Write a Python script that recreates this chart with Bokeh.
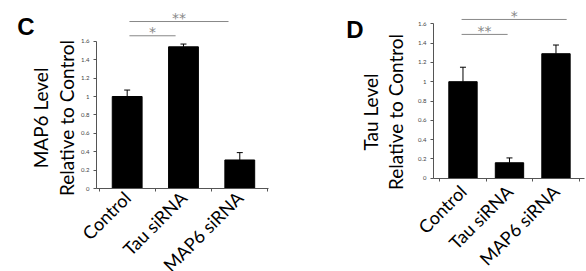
import math
from bokeh.plotting import figure
from bokeh.layouts import row
from bokeh.models import (ColumnDataSource, Range1d, LinearAxis, FixedTicker,
                          NumeralTickFormatter, Whisker, TeeHead, Label)
from bokeh.core.properties import value
from bokeh.embed import file_html
from bokeh.resources import INLINE

# ---------------- data ----------------
categories = ["Control", "Tau siRNA", "MAP6 siRNA"]

map6_level = [1.00, 1.54, 0.31]
map6_err = [0.07, 0.03, 0.08]

tau_level = [1.00, 0.16, 1.29]
tau_err = [0.15, 0.05, 0.09]

y_ticks = [0, 0.2, 0.4, 0.6, 0.8, 1.0, 1.2, 1.4, 1.6]

# significance annotations: (x start, x end, height, label)
sig_c = [(0.54, 1.36, 1.66, "*"), (0.54, 2.30, 1.815, "**")]
sig_d = [(0.47, 1.46, 1.49, "**"), (0.47, 2.73, 1.645, "*")]

FONT = "Lato"
GREY = "#888888"
W, H = 293, 271


def panel(level, err, ylabel, letter, sig, ox, oy, sx, sy, x_lo, x_hi,
          bar_w, letter_px, ylabel_px, xlab_standoff, xlab_size, star_lift_px):
    """ox, oy: canvas pixel of the data origin (x_lo, 0); sx, sy: px per unit."""
    centers = [i + 0.5 for i in range(len(categories))]
    xr = (x_lo - ox / sx, x_lo + (W - ox) / sx)
    yr = (-(H - oy) / sy, oy / sy)

    def to_data(px, py):
        return xr[0] + px / sx, yr[1] - py / sy

    p = figure(width=W, height=H, x_range=Range1d(*xr), y_range=Range1d(*yr),
               output_backend="svg", toolbar_location=None, title=None,
               x_axis_type=None, y_axis_type=None,
               min_border_left=0, min_border_right=0,
               min_border_top=0, min_border_bottom=0)
    p.outline_line_color = None
    p.grid.visible = False
    p.background_fill_color = "white"
    p.border_fill_color = "white"

    # y axis
    ya = LinearAxis(ticker=FixedTicker(ticks=y_ticks), bounds=(0, 1.6),
                    fixed_location=x_lo,
                    formatter=NumeralTickFormatter(format="0.[0]"))
    ya.axis_line_color = "#555555"
    ya.major_tick_line_color = "#555555"
    ya.major_tick_out = 3
    ya.major_tick_in = 0
    ya.minor_tick_line_color = None
    ya.major_label_text_font = FONT
    ya.major_label_text_font_size = "6px"
    ya.major_label_text_color = "#444444"
    ya.major_label_standoff = 4
    p.add_layout(ya, "left")

    # x axis
    xa = LinearAxis(ticker=FixedTicker(ticks=centers,
                                       minor_ticks=list(range(len(categories) + 1))),
                    bounds=(x_lo, x_hi), fixed_location=0,
                    major_label_overrides={c: n for c, n in zip(centers, categories)})
    xa.axis_line_color = "#555555"
    xa.major_tick_line_color = None
    xa.minor_tick_line_color = "#555555"
    xa.minor_tick_out = 3
    xa.minor_tick_in = 0
    xa.major_label_orientation = math.pi / 4
    xa.major_label_text_font = FONT
    xa.major_label_text_font_size = xlab_size
    xa.major_label_text_color = "black"
    xa.major_label_standoff = xlab_standoff
    p.add_layout(xa, "below")

    src = ColumnDataSource(dict(x=centers, top=level,
                                upper=[v + e for v, e in zip(level, err)]))
    p.vbar(x="x", top="top", width=bar_w, source=src,
           fill_color="black", line_color="black")
    p.add_layout(Whisker(source=src, base="x", lower="top", upper="upper",
                         line_color="black", line_width=1,
                         upper_head=TeeHead(size=6, line_color="black", line_width=1),
                         lower_head=None))

    for x0, x1, y, lab in sig:
        p.segment(x0=[x0], y0=[y], x1=[x1], y1=[y], line_color=GREY, line_width=1)
        p.text(x=[(x0 + x1) / 2], y=[y + star_lift_px / sy],
               text=[lab], text_align="center", text_baseline="alphabetic",
               text_font=value("DejaVu Sans"), text_font_size="14px",
               text_color=GREY)

    lx, ly = to_data(*ylabel_px)
    p.add_layout(Label(x=lx, y=ly, text=ylabel, angle=math.pi / 2,
                       text_align="center", text_baseline="middle",
                       text_font=FONT, text_font_size="19px",
                       text_line_height=1.1, text_color="black"))
    tx, ty = to_data(*letter_px)
    p.add_layout(Label(x=tx, y=ty, text=letter,
                       text_align="center", text_baseline="middle",
                       text_font="Liberation Sans", text_font_style="bold",
                       text_font_size="24px", text_color="black"))
    return p


pc = panel(map6_level, map6_err, "MAP6 Level\nRelative to Control", "C", sig_c,
           ox=96, oy=188, sx=56.3, sy=92.0, x_lo=-0.045, x_hi=3.01, bar_w=0.53,
           letter_px=(25.5, 25.5), ylabel_px=(53, 117.5), xlab_standoff=0,
           xlab_size="18px", star_lift_px=3.5)
pd_ = panel(tau_level, tau_err, "Tau Level\nRelative to Control", "D", sig_d,
            ox=140, oy=177.7, sx=46.5, sy=96.5, x_lo=-0.134, x_hi=3.11, bar_w=0.61,
            letter_px=(61.5, 29), ylabel_px=(89.5, 111.5), xlab_standoff=4,
            xlab_size="18px", star_lift_px=3.0)

layout = row(pc, pd_, spacing=0)
open("out.html", "w").write(file_html(layout, INLINE))
